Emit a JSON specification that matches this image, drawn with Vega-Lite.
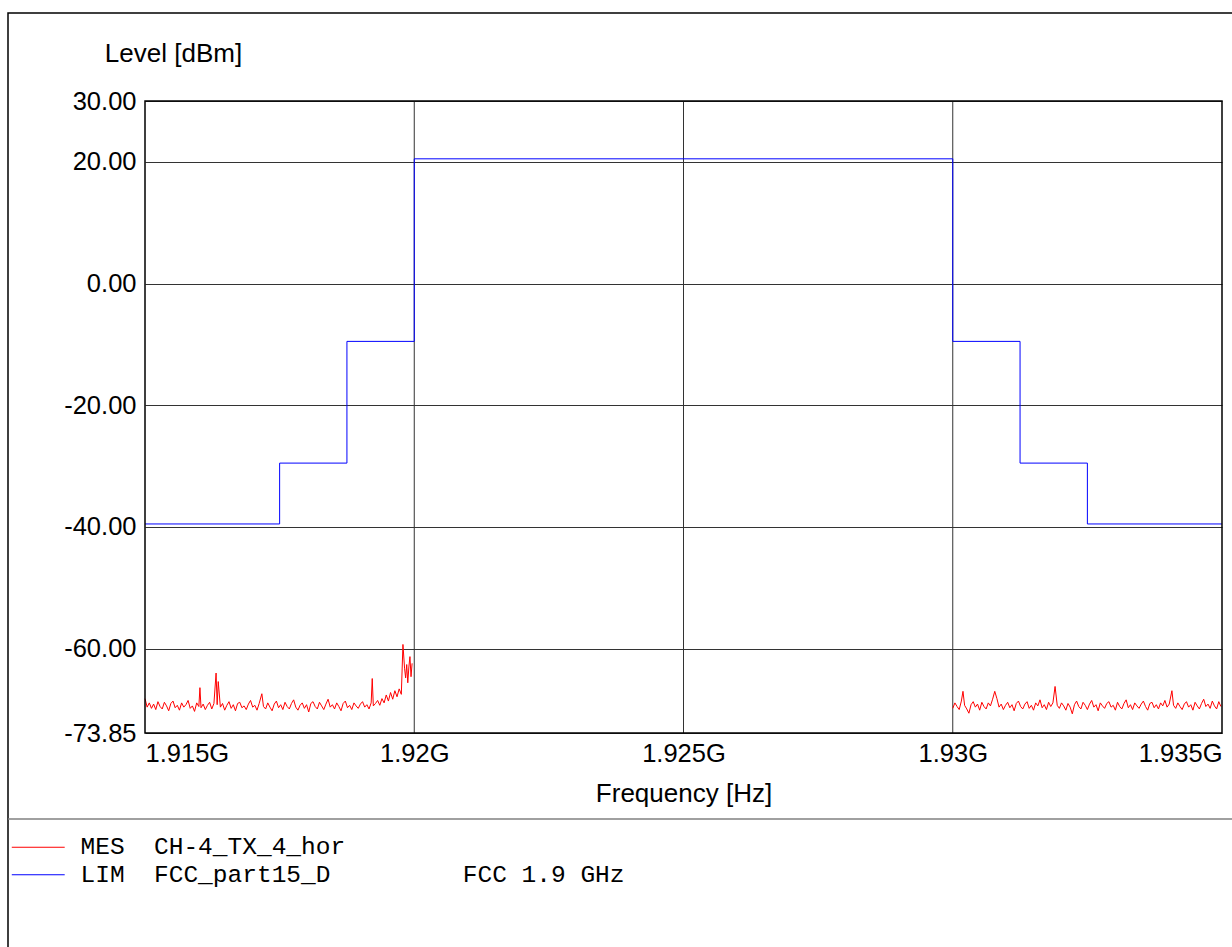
{
  "$schema": "https://vega.github.io/schema/vega-lite/v6.json",
  "autosize": "none",
  "padding": {"left": 8, "top": 13, "right": -4, "bottom": -4},
  "width": 1228,
  "height": 938,
  "background": "white",
  "datasets": {
    "grid": [{"t": 1.92}, {"t": 1.925}, {"t": 1.93}],
    "lim": [
      {"i": 0, "f": 1.915, "v": -39.5},
      {"i": 1, "f": 1.9175, "v": -39.5},
      {"i": 2, "f": 1.9175, "v": -29.5},
      {"i": 3, "f": 1.91875, "v": -29.5},
      {"i": 4, "f": 1.91875, "v": -9.5},
      {"i": 5, "f": 1.92, "v": -9.5},
      {"i": 6, "f": 1.92, "v": 20.5},
      {"i": 7, "f": 1.93, "v": 20.5},
      {"i": 8, "f": 1.93, "v": -9.5},
      {"i": 9, "f": 1.93125, "v": -9.5},
      {"i": 10, "f": 1.93125, "v": -29.5},
      {"i": 11, "f": 1.9325, "v": -29.5},
      {"i": 12, "f": 1.9325, "v": -39.5},
      {"i": 13, "f": 1.935, "v": -39.5}
    ],
    "mes": [
      {"g": 1, "f": 1.91500, "v": -68.2}, {"g": 1, "f": 1.91504, "v": -69.6}, {"g": 1, "f": 1.91508, "v": -68.9}, {"g": 1, "f": 1.91512, "v": -69.8},
      {"g": 1, "f": 1.91516, "v": -69.1}, {"g": 1, "f": 1.91520, "v": -70.0}, {"g": 1, "f": 1.91524, "v": -68.7}, {"g": 1, "f": 1.91528, "v": -69.5},
      {"g": 1, "f": 1.91532, "v": -69.9}, {"g": 1, "f": 1.91536, "v": -68.8}, {"g": 1, "f": 1.91540, "v": -69.4}, {"g": 1, "f": 1.91544, "v": -70.2},
      {"g": 1, "f": 1.91548, "v": -69.0}, {"g": 1, "f": 1.91552, "v": -68.6}, {"g": 1, "f": 1.91556, "v": -69.7}, {"g": 1, "f": 1.91560, "v": -69.3},
      {"g": 1, "f": 1.91564, "v": -70.1}, {"g": 1, "f": 1.91568, "v": -68.9}, {"g": 1, "f": 1.91572, "v": -69.6}, {"g": 1, "f": 1.91576, "v": -69.2},
      {"g": 1, "f": 1.91580, "v": -68.5}, {"g": 1, "f": 1.91584, "v": -69.8}, {"g": 1, "f": 1.91588, "v": -69.4}, {"g": 1, "f": 1.91592, "v": -70.3},
      {"g": 1, "f": 1.91596, "v": -68.9}, {"g": 1, "f": 1.91600, "v": -69.5}, {"g": 1, "f": 1.91602, "v": -66.4}, {"g": 1, "f": 1.91604, "v": -69.7},
      {"g": 1, "f": 1.91608, "v": -69.1}, {"g": 1, "f": 1.91612, "v": -70.0}, {"g": 1, "f": 1.91616, "v": -69.3}, {"g": 1, "f": 1.91620, "v": -68.8},
      {"g": 1, "f": 1.91624, "v": -69.9}, {"g": 1, "f": 1.91628, "v": -69.0}, {"g": 1, "f": 1.91632, "v": -64.0}, {"g": 1, "f": 1.91634, "v": -69.2},
      {"g": 1, "f": 1.91636, "v": -65.4}, {"g": 1, "f": 1.91640, "v": -69.6}, {"g": 1, "f": 1.91644, "v": -69.0}, {"g": 1, "f": 1.91648, "v": -70.1},
      {"g": 1, "f": 1.91652, "v": -69.3}, {"g": 1, "f": 1.91656, "v": -68.7}, {"g": 1, "f": 1.91660, "v": -69.8}, {"g": 1, "f": 1.91664, "v": -69.2},
      {"g": 1, "f": 1.91668, "v": -70.2}, {"g": 1, "f": 1.91672, "v": -69.0}, {"g": 1, "f": 1.91676, "v": -68.8}, {"g": 1, "f": 1.91680, "v": -69.7},
      {"g": 1, "f": 1.91684, "v": -69.4}, {"g": 1, "f": 1.91688, "v": -70.0}, {"g": 1, "f": 1.91692, "v": -69.1}, {"g": 1, "f": 1.91696, "v": -68.5},
      {"g": 1, "f": 1.91700, "v": -69.6}, {"g": 1, "f": 1.91704, "v": -69.3}, {"g": 1, "f": 1.91708, "v": -70.1}, {"g": 1, "f": 1.91712, "v": -69.0},
      {"g": 1, "f": 1.91717, "v": -67.4}, {"g": 1, "f": 1.91720, "v": -69.5}, {"g": 1, "f": 1.91724, "v": -69.9}, {"g": 1, "f": 1.91728, "v": -68.9},
      {"g": 1, "f": 1.91732, "v": -69.6}, {"g": 1, "f": 1.91736, "v": -70.2}, {"g": 1, "f": 1.91740, "v": -69.1}, {"g": 1, "f": 1.91744, "v": -68.6},
      {"g": 1, "f": 1.91748, "v": -69.7}, {"g": 1, "f": 1.91752, "v": -69.2}, {"g": 1, "f": 1.91756, "v": -70.0}, {"g": 1, "f": 1.91760, "v": -68.8},
      {"g": 1, "f": 1.91764, "v": -69.5}, {"g": 1, "f": 1.91768, "v": -69.9}, {"g": 1, "f": 1.91772, "v": -69.0}, {"g": 1, "f": 1.91776, "v": -68.4},
      {"g": 1, "f": 1.91780, "v": -69.6}, {"g": 1, "f": 1.91784, "v": -70.1}, {"g": 1, "f": 1.91788, "v": -69.3}, {"g": 1, "f": 1.91792, "v": -68.9},
      {"g": 1, "f": 1.91796, "v": -69.8}, {"g": 1, "f": 1.91800, "v": -69.2}, {"g": 1, "f": 1.91804, "v": -70.4}, {"g": 1, "f": 1.91808, "v": -69.0},
      {"g": 1, "f": 1.91812, "v": -68.7}, {"g": 1, "f": 1.91816, "v": -69.5}, {"g": 1, "f": 1.91820, "v": -69.9}, {"g": 1, "f": 1.91824, "v": -68.8},
      {"g": 1, "f": 1.91828, "v": -69.4}, {"g": 1, "f": 1.91832, "v": -70.0}, {"g": 1, "f": 1.91836, "v": -69.1}, {"g": 1, "f": 1.91840, "v": -68.3},
      {"g": 1, "f": 1.91844, "v": -69.6}, {"g": 1, "f": 1.91848, "v": -69.2}, {"g": 1, "f": 1.91852, "v": -69.9}, {"g": 1, "f": 1.91856, "v": -68.9},
      {"g": 1, "f": 1.91860, "v": -69.5}, {"g": 1, "f": 1.91864, "v": -70.2}, {"g": 1, "f": 1.91868, "v": -69.0}, {"g": 1, "f": 1.91872, "v": -68.6},
      {"g": 1, "f": 1.91876, "v": -69.7}, {"g": 1, "f": 1.91880, "v": -69.3}, {"g": 1, "f": 1.91884, "v": -70.0}, {"g": 1, "f": 1.91888, "v": -68.9},
      {"g": 1, "f": 1.91892, "v": -69.4}, {"g": 1, "f": 1.91896, "v": -69.8}, {"g": 1, "f": 1.91900, "v": -69.1}, {"g": 1, "f": 1.91904, "v": -68.7},
      {"g": 1, "f": 1.91908, "v": -69.6}, {"g": 1, "f": 1.91912, "v": -69.2}, {"g": 1, "f": 1.91916, "v": -69.9}, {"g": 1, "f": 1.91920, "v": -68.9},
      {"g": 1, "f": 1.91922, "v": -64.9}, {"g": 1, "f": 1.91924, "v": -69.4}, {"g": 1, "f": 1.91928, "v": -69.0}, {"g": 1, "f": 1.91932, "v": -68.5},
      {"g": 1, "f": 1.91936, "v": -69.3}, {"g": 1, "f": 1.91940, "v": -68.2}, {"g": 1, "f": 1.91944, "v": -68.9}, {"g": 1, "f": 1.91948, "v": -67.6},
      {"g": 1, "f": 1.91952, "v": -68.6}, {"g": 1, "f": 1.91956, "v": -67.2}, {"g": 1, "f": 1.91960, "v": -68.3}, {"g": 1, "f": 1.91964, "v": -66.9},
      {"g": 1, "f": 1.91968, "v": -67.9}, {"g": 1, "f": 1.91972, "v": -66.6}, {"g": 1, "f": 1.91976, "v": -67.5}, {"g": 1, "f": 1.91979, "v": -59.3},
      {"g": 1, "f": 1.91982, "v": -63.2}, {"g": 1, "f": 1.91984, "v": -64.8}, {"g": 1, "f": 1.91986, "v": -62.6}, {"g": 1, "f": 1.91988, "v": -65.6},
      {"g": 1, "f": 1.91990, "v": -63.0}, {"g": 1, "f": 1.91992, "v": -61.3}, {"g": 1, "f": 1.91994, "v": -64.6}, {"g": 1, "f": 1.91996, "v": -62.4},
      {"g": 2, "f": 1.93000, "v": -69.8}, {"g": 2, "f": 1.93004, "v": -68.9}, {"g": 2, "f": 1.93008, "v": -69.5}, {"g": 2, "f": 1.93012, "v": -70.0},
      {"g": 2, "f": 1.93016, "v": -68.6}, {"g": 2, "f": 1.93019, "v": -67.0}, {"g": 2, "f": 1.93022, "v": -69.3}, {"g": 2, "f": 1.93026, "v": -69.9},
      {"g": 2, "f": 1.93030, "v": -70.6}, {"g": 2, "f": 1.93034, "v": -69.2}, {"g": 2, "f": 1.93038, "v": -68.7}, {"g": 2, "f": 1.93042, "v": -69.6},
      {"g": 2, "f": 1.93046, "v": -69.1}, {"g": 2, "f": 1.93050, "v": -70.1}, {"g": 2, "f": 1.93054, "v": -68.8}, {"g": 2, "f": 1.93058, "v": -69.5},
      {"g": 2, "f": 1.93062, "v": -69.9}, {"g": 2, "f": 1.93066, "v": -68.9}, {"g": 2, "f": 1.93070, "v": -69.4}, {"g": 2, "f": 1.93074, "v": -68.3},
      {"g": 2, "f": 1.93078, "v": -67.0}, {"g": 2, "f": 1.93082, "v": -68.2}, {"g": 2, "f": 1.93086, "v": -69.6}, {"g": 2, "f": 1.93090, "v": -69.1},
      {"g": 2, "f": 1.93094, "v": -70.0}, {"g": 2, "f": 1.93098, "v": -69.3}, {"g": 2, "f": 1.93102, "v": -68.8}, {"g": 2, "f": 1.93106, "v": -69.7},
      {"g": 2, "f": 1.93110, "v": -69.2}, {"g": 2, "f": 1.93114, "v": -70.2}, {"g": 2, "f": 1.93118, "v": -69.0}, {"g": 2, "f": 1.93122, "v": -68.6},
      {"g": 2, "f": 1.93126, "v": -69.5}, {"g": 2, "f": 1.93130, "v": -69.9}, {"g": 2, "f": 1.93134, "v": -69.1}, {"g": 2, "f": 1.93138, "v": -68.7},
      {"g": 2, "f": 1.93142, "v": -69.8}, {"g": 2, "f": 1.93146, "v": -69.3}, {"g": 2, "f": 1.93150, "v": -70.1}, {"g": 2, "f": 1.93154, "v": -68.9},
      {"g": 2, "f": 1.93158, "v": -69.4}, {"g": 2, "f": 1.93162, "v": -68.4}, {"g": 2, "f": 1.93166, "v": -69.7}, {"g": 2, "f": 1.93170, "v": -69.2},
      {"g": 2, "f": 1.93174, "v": -70.0}, {"g": 2, "f": 1.93178, "v": -68.8}, {"g": 2, "f": 1.93182, "v": -69.5}, {"g": 2, "f": 1.93186, "v": -68.9},
      {"g": 2, "f": 1.93190, "v": -66.2}, {"g": 2, "f": 1.93194, "v": -69.3}, {"g": 2, "f": 1.93198, "v": -69.8}, {"g": 2, "f": 1.93202, "v": -68.9},
      {"g": 2, "f": 1.93206, "v": -69.4}, {"g": 2, "f": 1.93210, "v": -70.1}, {"g": 2, "f": 1.93214, "v": -69.0}, {"g": 2, "f": 1.93218, "v": -69.6},
      {"g": 2, "f": 1.93222, "v": -70.7}, {"g": 2, "f": 1.93226, "v": -69.2}, {"g": 2, "f": 1.93230, "v": -68.6}, {"g": 2, "f": 1.93234, "v": -69.5},
      {"g": 2, "f": 1.93238, "v": -69.9}, {"g": 2, "f": 1.93242, "v": -68.8}, {"g": 2, "f": 1.93246, "v": -69.3}, {"g": 2, "f": 1.93250, "v": -70.0},
      {"g": 2, "f": 1.93254, "v": -69.1}, {"g": 2, "f": 1.93258, "v": -68.5}, {"g": 2, "f": 1.93262, "v": -69.6}, {"g": 2, "f": 1.93266, "v": -69.2},
      {"g": 2, "f": 1.93270, "v": -70.2}, {"g": 2, "f": 1.93274, "v": -68.9}, {"g": 2, "f": 1.93278, "v": -69.4}, {"g": 2, "f": 1.93282, "v": -69.8},
      {"g": 2, "f": 1.93286, "v": -69.0}, {"g": 2, "f": 1.93290, "v": -68.7}, {"g": 2, "f": 1.93294, "v": -69.6}, {"g": 2, "f": 1.93298, "v": -69.3},
      {"g": 2, "f": 1.93302, "v": -70.1}, {"g": 2, "f": 1.93306, "v": -68.8}, {"g": 2, "f": 1.93310, "v": -69.5}, {"g": 2, "f": 1.93314, "v": -69.9},
      {"g": 2, "f": 1.93318, "v": -69.0}, {"g": 2, "f": 1.93322, "v": -68.4}, {"g": 2, "f": 1.93326, "v": -69.7}, {"g": 2, "f": 1.93330, "v": -69.2},
      {"g": 2, "f": 1.93334, "v": -70.0}, {"g": 2, "f": 1.93338, "v": -68.9}, {"g": 2, "f": 1.93342, "v": -69.4}, {"g": 2, "f": 1.93346, "v": -69.8},
      {"g": 2, "f": 1.93350, "v": -69.1}, {"g": 2, "f": 1.93354, "v": -68.6}, {"g": 2, "f": 1.93358, "v": -69.5}, {"g": 2, "f": 1.93362, "v": -70.1},
      {"g": 2, "f": 1.93366, "v": -69.0}, {"g": 2, "f": 1.93370, "v": -68.8}, {"g": 2, "f": 1.93374, "v": -69.7}, {"g": 2, "f": 1.93378, "v": -69.2},
      {"g": 2, "f": 1.93382, "v": -69.9}, {"g": 2, "f": 1.93386, "v": -68.9}, {"g": 2, "f": 1.93390, "v": -69.4}, {"g": 2, "f": 1.93394, "v": -68.5},
      {"g": 2, "f": 1.93398, "v": -69.6}, {"g": 2, "f": 1.93402, "v": -69.1}, {"g": 2, "f": 1.93407, "v": -66.9}, {"g": 2, "f": 1.93410, "v": -69.3},
      {"g": 2, "f": 1.93414, "v": -69.8}, {"g": 2, "f": 1.93418, "v": -68.9}, {"g": 2, "f": 1.93422, "v": -69.5}, {"g": 2, "f": 1.93426, "v": -70.0},
      {"g": 2, "f": 1.93430, "v": -69.1}, {"g": 2, "f": 1.93434, "v": -68.7}, {"g": 2, "f": 1.93438, "v": -69.6}, {"g": 2, "f": 1.93442, "v": -69.2},
      {"g": 2, "f": 1.93446, "v": -70.1}, {"g": 2, "f": 1.93450, "v": -68.8}, {"g": 2, "f": 1.93454, "v": -69.4}, {"g": 2, "f": 1.93458, "v": -69.9},
      {"g": 2, "f": 1.93462, "v": -69.0}, {"g": 2, "f": 1.93466, "v": -68.3}, {"g": 2, "f": 1.93470, "v": -69.5}, {"g": 2, "f": 1.93474, "v": -69.1},
      {"g": 2, "f": 1.93478, "v": -69.8}, {"g": 2, "f": 1.93482, "v": -68.6}, {"g": 2, "f": 1.93486, "v": -69.4}, {"g": 2, "f": 1.93490, "v": -69.9},
      {"g": 2, "f": 1.93494, "v": -68.7}, {"g": 2, "f": 1.93498, "v": -69.5}
    ]
  },
  "layer": [
    {
      "data": {"values": [{}]},
      "mark": {"type": "rule", "color": "#808080", "strokeWidth": 1.5},
      "encoding": {
        "y": {"datum": -87.98, "type": "quantitative"}
      }
    },
    {
      "data": {"name": "grid"},
      "mark": {"type": "rule", "color": "#333333", "strokeWidth": 1},
      "encoding": {
        "x": {"field": "t", "type": "quantitative"},
        "y": {"datum": -73.85, "type": "quantitative"},
        "y2": {"datum": 30}
      }
    },
    {
      "data": {"name": "lim"},
      "mark": {"type": "line", "strokeWidth": 1},
      "encoding": {
        "x": {
          "field": "f", "type": "quantitative",
          "scale": {"domain": [1.915, 1.935], "range": [137, 1214], "nice": false, "zero": false},
          "axis": {
            "values": [1.915, 1.92, 1.925, 1.93, 1.935],
            "labelExpr": "datum.value + 'G'",
            "labelFlush": true,
            "labelOverlap": false,
            "offset": -218,
            "labelPadding": 8,
            "grid": false,
            "title": "Frequency [Hz]",
            "titleY": 60,
            "titleBaseline": "middle"
          }
        },
        "y": {
          "field": "v", "type": "quantitative",
          "scale": {"domain": [-73.85, 30], "range": [720, 88], "nice": false, "zero": false},
          "axis": {
            "values": [30, 20, 0, -20, -40, -60, -73.85],
            "labelExpr": "replace(format(datum.value, '.2f'), '\u2212', '-')",
            "labelOverlap": false,
            "offset": -137,
            "labelPadding": 9,
            "grid": true,
            "title": "Level [dBm]",
            "titleAngle": 0,
            "titleAlign": "center",
            "titleBaseline": "middle",
            "titleX": 28,
            "titleY": 40
          }
        },
        "order": {"field": "i", "type": "quantitative"},
        "color": {
          "datum": "LIM", "type": "nominal",
          "scale": {"domain": ["MES", "LIM"], "range": ["#ff0000", "#0000ff"]},
          "legend": {
            "orient": "none",
            "legendX": 18,
            "legendY": 822,
            "title": null,
            "padding": 0,
            "symbolType": "M-5,0H5",
            "symbolSize": 112,
            "symbolStrokeWidth": 1,
            "labelFont": "Liberation Mono",
            "labelFontSize": 24.5,
            "labelColor": "black",
            "labelLimit": 2000,
            "labelOffset": 30,
            "rowPadding": 2.5,
            "labelExpr": "datum.label == 'MES' ? 'MES\u00a0\u00a0CH-4_TX_4_hor' : 'LIM\u00a0\u00a0FCC_part15_D\u00a0\u00a0\u00a0\u00a0\u00a0\u00a0\u00a0\u00a0\u00a0FCC\u00a01.9\u00a0GHz'"
          }
        }
      }
    },
    {
      "data": {"name": "mes"},
      "mark": {"type": "line", "strokeWidth": 1},
      "encoding": {
        "x": {"field": "f", "type": "quantitative"},
        "y": {"field": "v", "type": "quantitative"},
        "detail": {"field": "g", "type": "nominal"},
        "color": {"datum": "MES", "type": "nominal"}
      }
    },
    {
      "data": {"values": [{}]},
      "mark": {"type": "rect", "filled": false, "color": "black", "strokeWidth": 1.5},
      "encoding": {
        "x": {"datum": 1.915, "type": "quantitative"},
        "x2": {"datum": 1.935},
        "y": {"datum": -73.85, "type": "quantitative"},
        "y2": {"datum": 30}
      }
    }
  ],
  "config": {
    "font": "Liberation Sans",
    "view": {"stroke": "black", "strokeWidth": 1.5},
    "axis": {
      "domain": false,
      "ticks": false,
      "labelFont": "Liberation Sans",
      "labelFontSize": 25.5,
      "labelColor": "black",
      "titleFont": "Liberation Sans",
      "titleFontSize": 26,
      "titleFontWeight": "normal",
      "titleColor": "black",
      "gridColor": "#333333",
      "gridWidth": 1,
      "gridOpacity": 1
    }
  }
}
